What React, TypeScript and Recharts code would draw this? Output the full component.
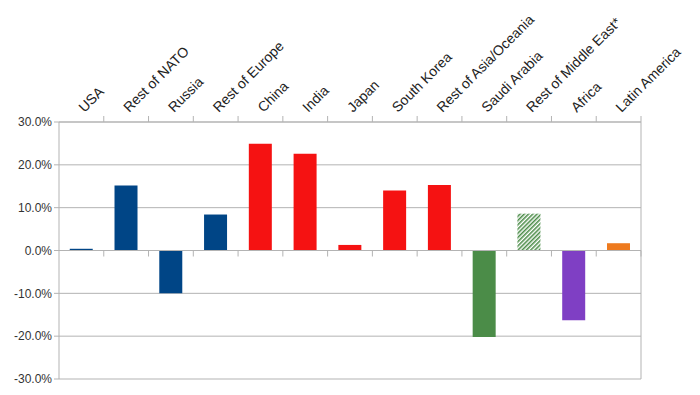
import React from "react";
import { BarChart, Bar, XAxis, YAxis, CartesianGrid, Cell, ReferenceLine } from "recharts";

const categories = [
  "USA",
  "Rest of NATO",
  "Russia",
  "Rest of Europe",
  "China",
  "India",
  "Japan",
  "South Korea",
  "Rest of Asia/Oceania",
  "Saudi Arabia",
  "Rest of Middle East*",
  "Africa",
  "Latin America",
];
const values = [0.004, 0.152, -0.1, 0.084, 0.249, 0.226, 0.013, 0.14, 0.153, -0.202, 0.086, -0.163, 0.017];
const fills = [
  "#004586",
  "#004586",
  "#004586",
  "#004586",
  "#f51212",
  "#f51212",
  "#f51212",
  "#f51212",
  "#f51212",
  "#4b8c48",
  "url(#hatchGreen)",
  "#7f3fc4",
  "#ee7a1e",
];
const yTicks = [-0.3, -0.2, -0.1, 0, 0.1, 0.2, 0.3];

const data = categories.map((c, i) => ({ name: c, value: values[i] }));

const GRID = "#b3b3b3";
const FONT = "'Liberation Sans', Arial, sans-serif";

const TopLabel = (props: any) => {
  const { x, y, payload } = props;
  const tx = x + 3;
  const ty = y - 1;
  return (
    <text
      x={tx}
      y={ty}
      transform={`rotate(-45 ${tx} ${ty})`}
      textAnchor="start"
      fontFamily={FONT}
      fontSize={14}
      fill="#222"
    >
      {payload.value}
    </text>
  );
};

const makeTickLine = (dir: number) => (props: any) => {
  const { x1, y1, x2, y2 } = props;
  const n = categories.length;
  const step = (x2 - x1) / n;
  const ticks = [];
  for (let i = 1; i <= n; i++) {
    const tx = x1 + step * i;
    ticks.push(<line key={i} x1={tx} x2={tx} y1={y1} y2={y1 + dir * 6} stroke={GRID} strokeWidth={1} />);
  }
  return (
    <g>
      <line x1={x1} y1={y1} x2={x2} y2={y2} stroke={GRID} strokeWidth={1} />
      {ticks}
    </g>
  );
};

export default function App() {
  return (
    <div style={{ position: "relative" }}>
      <svg width={0} height={0} style={{ position: "absolute" }}>
        <defs>
          <pattern id="hatchGreen" patternUnits="userSpaceOnUse" width={3} height={3} patternTransform="rotate(45)">
            <rect width={3} height={3} fill="#ffffff" />
            <line x1={0.75} y1={0} x2={0.75} y2={3} stroke="#4b8c48" strokeWidth={1.6} />
          </pattern>
        </defs>
      </svg>
      <BarChart
        width={684}
        height={380}
        data={data}
        margin={{ top: 0, right: 50, bottom: 9, left: 0 }}
        barCategoryGap="24%"
      >
        <CartesianGrid vertical={false} stroke={GRID} />
        <XAxis
          dataKey="name"
          orientation="top"
          height={114}
          axisLine={false}
          tickLine={false}
          interval={0}
          tick={<TopLabel />}
        />
        <YAxis
          domain={[-0.3, 0.3]}
          ticks={yTicks}
          width={51}
          interval={0}
          axisLine={{ stroke: GRID }}
          tickLine={{ stroke: GRID }}
          tickSize={5}
          tick={{ fontFamily: FONT, fontSize: 12, fill: "#333" }}
          tickFormatter={(v: number) => (v * 100).toFixed(1) + "%"}
        />
        <YAxis
          yAxisId="right"
          orientation="right"
          domain={[-0.3, 0.3]}
          width={1}
          tick={false}
          tickLine={false}
          axisLine={{ stroke: GRID }}
        />
        <ReferenceLine y={0.3} shape={makeTickLine(-1)} />
        <ReferenceLine y={0} shape={makeTickLine(1)} />
        <Bar dataKey="value" isAnimationActive={false}>
          {data.map((d, i) => (
            <Cell key={d.name} fill={fills[i]} />
          ))}
        </Bar>
      </BarChart>
    </div>
  );
}
